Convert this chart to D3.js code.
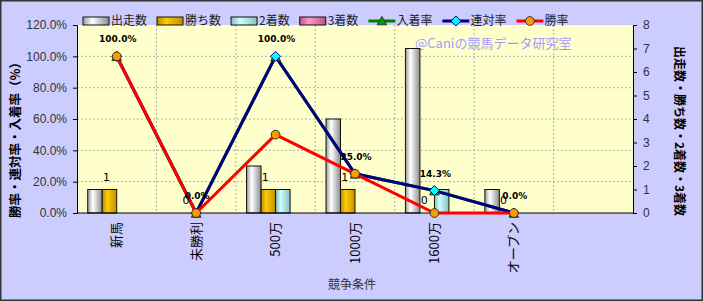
<!DOCTYPE html>
<html>
<head>
<meta charset="utf-8">
<script src="https://cdn.jsdelivr.net/npm/d3@7"></script>
<style>
  body { margin: 0; background: #fff; }
  svg text { font-family: "Noto Sans CJK JP", "DejaVu Sans", sans-serif; }
</style>
</head>
<body>
<div id="chart"></div>
<script>
// race class categories (last slot is empty in the original)
var categories = ["新馬", "未勝利", "500万", "1000万", "1600万", "オープン", ""];

// counts (right axis)
var runs   = [1, 0, 2, 4, 7, 1];
var wins   = [1, 0, 1, 1, 0, 0];
var second = [0, 0, 1, 0, 1, 0];
var third  = [0, 0, 0, 0, 0, 0];

// rates in % (left axis)
var placeRate = [100, 0, 100, 25, 14.3, 0];
var rentaiRate = [100, 0, 100, 25, 14.3, 0];
var winRate = [100, 0, 50, 25, 0, 0];

var leftTicks = [0, 20, 40, 60, 80, 100, 120];
var rightTicks = [0, 1, 2, 3, 4, 5, 6, 7, 8];

var barSeries = [
    {name: "出走数", values: runs, grad: "gWhite"},
    {name: "勝ち数", values: wins, grad: "gGold"},
    {name: "2着数", values: second, grad: "gCyan"},
    {name: "3着数", values: third, grad: "gPink"}
];
var lineSeries = [
    {name: "入着率", values: placeRate, color: "#008000", marker: "triangle", fill: "#00a000"},
    {name: "連対率", values: rentaiRate, color: "#000080", marker: "diamond", fill: "#00ffff"},
    {name: "勝率", values: winRate, color: "#ff0000", marker: "circle", fill: "#ff9900"}
];

var width = 703, height = 301;
var plot = {left: 77, right: 633, top: 25, bottom: 213};

var svg = d3.select("#chart").append("svg")
    .attr("width", width)
    .attr("height", height);

// gradients for cylinder-ish bars
var defs = svg.append("defs");
function grad(id, edge, mid, edge2) {
    var g = defs.append("linearGradient").attr("id", id)
        .attr("x1", "0%").attr("x2", "100%").attr("y1", "0%").attr("y2", "0%");
    g.append("stop").attr("offset", "0%").attr("stop-color", edge);
    g.append("stop").attr("offset", "35%").attr("stop-color", mid);
    g.append("stop").attr("offset", "100%").attr("stop-color", edge2);
}
grad("gWhite", "#9a9a9a", "#ffffff", "#8c8c8c");
grad("gGold", "#b88a00", "#ffcc00", "#c09000");
grad("gCyan", "#88bbbb", "#ccffff", "#88c0c0");
grad("gPink", "#bb5588", "#ff99cc", "#bb5588");

// background + border
svg.append("rect").attr("x", 0.75).attr("y", 0.75)
    .attr("width", width - 1.5).attr("height", height - 1.5)
    .attr("fill", "#ccccff").attr("stroke", "#333").attr("stroke-width", 1.5);

svg.append("rect")
    .attr("x", plot.left).attr("y", plot.top)
    .attr("width", plot.right - plot.left).attr("height", plot.bottom - plot.top)
    .attr("fill", "#ffffcc");

/*** SCALES */
var x = d3.scaleBand().domain(categories).range([plot.left, plot.right]);
var yL = d3.scaleLinear().domain([0, 120]).range([plot.bottom, plot.top]);
var yR = d3.scaleLinear().domain([0, 8]).range([plot.bottom, plot.top]);
var groupW = 58;
var pad = (x.bandwidth() - groupW) / 2;
var x1 = d3.scaleBand().domain(barSeries.map(function(d) { return d.name; }))
    .range([pad, pad + groupW]);

// gridlines
svg.append("g").selectAll("line.h")
    .data(leftTicks.filter(function(d) { return d > 0 && d < 120; }))
    .enter().append("line")
    .attr("x1", plot.left).attr("x2", plot.right)
    .attr("y1", function(d) { return yL(d); }).attr("y2", function(d) { return yL(d); })
    .attr("stroke", "#999").attr("stroke-dasharray", "2,2").attr("stroke-width", 0.8);

svg.append("g").selectAll("line.v")
    .data(categories.slice(1))
    .enter().append("line")
    .attr("x1", function(d) { return x(d); }).attr("x2", function(d) { return x(d); })
    .attr("y1", plot.top).attr("y2", plot.bottom)
    .attr("stroke", "#999").attr("stroke-dasharray", "2,2").attr("stroke-width", 0.8);

// watermark
svg.append("text")
    .attr("x", 415).attr("y", 48)
    .attr("font-size", 13)
    .attr("fill", "#a0a0f8")
    .text("@Caniの競馬データ研究室");

/*** BARS */
barSeries.forEach(function(s) {
    svg.append("g").selectAll("rect")
        .data(s.values.map(function(v, i) { return {cat: categories[i], v: v}; })
              .filter(function(d) { return d.v > 0; }))
        .enter().append("rect")
        .attr("x", function(d) { return x(d.cat) + x1(s.name); })
        .attr("y", function(d) { return yR(d.v); })
        .attr("width", x1.bandwidth())
        .attr("height", function(d) { return yR(0) - yR(d.v); })
        .attr("fill", "url(#" + s.grad + ")")
        .attr("stroke", "#111").attr("stroke-width", 1);
});

// axes
var axisL = svg.append("g").attr("transform", "translate(" + plot.left + ",0)")
    .call(d3.axisLeft(yL).tickValues(leftTicks).tickSize(4)
        .tickFormat(function(d) { return d.toFixed(1) + "%"; }));
var axisR = svg.append("g").attr("transform", "translate(" + plot.right + ",0)")
    .call(d3.axisRight(yR).tickValues(rightTicks).tickSize(4).tickFormat(d3.format("d")));
[axisL, axisR].forEach(function(a) {
    a.select(".domain").attr("stroke", "#000");
    a.selectAll(".tick line").attr("stroke", "#000");
    a.selectAll("text").attr("fill", "#333")
        .style("font-family", "'Liberation Sans', Arial, sans-serif").attr("font-size", 12);
});
axisL.selectAll("text").attr("x", -10);
axisR.selectAll("text").attr("x", 10);

svg.append("line")
    .attr("x1", plot.left).attr("x2", plot.right)
    .attr("y1", plot.bottom).attr("y2", plot.bottom)
    .attr("stroke", "#000");

// category labels, rotated
svg.append("g").selectAll("text")
    .data(categories.filter(function(d) { return d !== ""; }))
    .enter().append("text")
    .attr("transform", function(d) {
        return "translate(" + (x(d) + x.bandwidth() / 2) + "," + (plot.bottom + 9) + ") rotate(-90)";
    })
    .attr("text-anchor", "end")
    .attr("dy", "0.35em")
    .attr("font-size", 13)
    .attr("fill", "#000")
    .text(function(d) { return d; });

/*** LINES */
var lineGen = d3.line()
    .x(function(d) { return x(d.cat) + x.bandwidth() / 2; })
    .y(function(d) { return yL(d.v); });

function markerPath(type) {
    if (type === "triangle") return d3.symbol().type(d3.symbolTriangle).size(40)();
    if (type === "diamond") return "M0,-5L5,0L0,5L-5,0Z";
    return d3.symbol().type(d3.symbolCircle).size(60)();
}

lineSeries.forEach(function(s) {
    var pts = s.values.map(function(v, i) { return {cat: categories[i], v: v}; });
    svg.append("path")
        .datum(pts)
        .attr("d", lineGen)
        .attr("fill", "none")
        .attr("stroke", s.color)
        .attr("stroke-width", 3);
    s.pts = pts;
});
lineSeries.forEach(function(s) {
    svg.append("g").selectAll("path")
        .data(s.pts)
        .enter().append("path")
        .attr("d", markerPath(s.marker))
        .attr("transform", function(d) {
            var dy = s.marker === "triangle" ? 1.5 : 0;
            return "translate(" + (x(d.cat) + x.bandwidth() / 2) + "," + (yL(d.v) + dy) + ")";
        })
        .attr("fill", s.fill)
        .attr("stroke", s.marker === "diamond" ? "#000080" : "#333")
        .attr("stroke-width", 1);
});

// data labels: place rate
svg.append("g").selectAll("text")
    .data(placeRate)
    .enter().append("text")
    .attr("x", function(d, i) { return x(categories[i]) + x.bandwidth() / 2 + 1; })
    .attr("y", function(d) { return yL(d) - 14; })
    .attr("text-anchor", "middle")
    .attr("font-size", 9)
    .attr("font-weight", "bold")
    .style("font-family", "'DejaVu Sans', sans-serif")
    .text(function(d) { return d.toFixed(1) + "%"; });

// data labels: wins count
svg.append("g").selectAll("text")
    .data(wins)
    .enter().append("text")
    .attr("x", function(d, i) { return x(categories[i]) + x1("勝ち数") + x1.bandwidth() / 2 - 3; })
    .attr("y", function(d) { return yR(d) - 9; })
    .attr("text-anchor", "middle")
    .attr("font-size", 11)
    .style("font-family", "'DejaVu Sans', sans-serif")
    .text(function(d) { return d; });

/*** AXIS TITLES */
svg.append("text")
    .attr("transform", "translate(17,137) rotate(-90)")
    .attr("text-anchor", "middle").attr("dominant-baseline", "middle")
    .attr("font-size", 12.5).attr("font-weight", "bold")
    .text("勝率・連対率・入着率（%）");
svg.append("text")
    .attr("transform", "translate(678,131) rotate(90)")
    .attr("text-anchor", "middle").attr("dominant-baseline", "middle")
    .attr("font-size", 12).attr("font-weight", "bold")
    .text("出走数・勝ち数・2着数・3着数");
svg.append("text")
    .attr("x", 352).attr("y", 289)
    .attr("text-anchor", "middle")
    .attr("font-size", 12).attr("fill", "#333")
    .text("競争条件");

/*** LEGEND */
var legend = svg.append("g");
var lx = 83, ly = 21;
barSeries.concat(lineSeries).forEach(function(s) {
    var g = legend.append("g").attr("transform", "translate(" + lx + "," + ly + ")");
    if (s.grad) {
        g.append("rect").attr("x", 0).attr("y", -4).attr("width", 26).attr("height", 8)
            .attr("fill", "url(#" + s.grad + ")").attr("stroke", "#111");
    } else {
        g.append("line").attr("x1", 0).attr("x2", 27).attr("y1", 0).attr("y2", 0)
            .attr("stroke", s.color).attr("stroke-width", 3);
        g.append("path").attr("d", markerPath(s.marker))
            .attr("transform", "translate(13.5," + (s.marker === "triangle" ? 1 : 0) + ")")
            .attr("fill", s.fill)
            .attr("stroke", s.marker === "diamond" ? "#000080" : "#333");
    }
    var t = g.append("text").attr("x", 28).attr("y", 0).attr("dy", "0.35em")
        .attr("font-size", 12).attr("fill", "#222").text(s.name);
    lx += 28 + t.node().getComputedTextLength() + 10;
});
</script>
</body>
</html>
